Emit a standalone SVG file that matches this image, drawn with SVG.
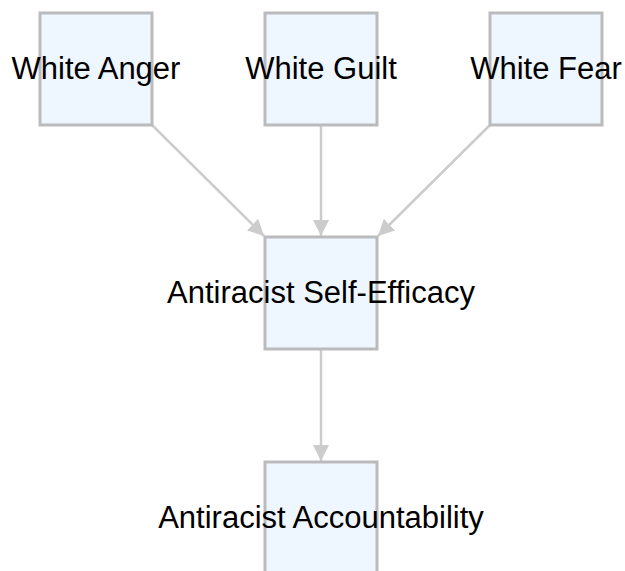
<svg xmlns="http://www.w3.org/2000/svg" width="625" height="571" viewBox="0 0 625 571">
<style>
.node rect{fill:#eef6ff;stroke:#bbbbbb;stroke-width:3}
.node text{font-family:"Liberation Sans",Arial,sans-serif;font-size:31px;fill:#000;text-anchor:middle}
.edge{stroke:#cccccc;stroke-width:2.5;fill:none;marker-end:url(#arr)}
</style>
<defs>
<marker id="arr" viewBox="0 0 10 10" refX="10" refY="5" markerWidth="6.5" markerHeight="6.5" markerUnits="strokeWidth" orient="auto">
<path d="M0,0 L10,5 L0,10 z" fill="#cccccc"/>
</marker>
</defs>
<rect width="625" height="571" fill="#ffffff"/>
<g id="edges">
<line class="edge" x1="152" y1="125" x2="264" y2="236"/>
<line class="edge" x1="321" y1="125" x2="321" y2="236"/>
<line class="edge" x1="490" y1="125" x2="378" y2="236"/>
<line class="edge" x1="321" y1="349" x2="321" y2="461"/>
</g>
<g id="white-anger" class="node"><rect x="40" y="13" width="112" height="112"/><text x="96" y="79">White Anger</text></g>
<g id="white-guilt" class="node"><rect x="265" y="13" width="112" height="112"/><text x="321" y="79">White Guilt</text></g>
<g id="white-fear" class="node"><rect x="490" y="13" width="112" height="112"/><text x="546" y="79">White Fear</text></g>
<g id="self-efficacy" class="node"><rect x="265" y="237" width="112" height="112"/><text x="321" y="303">Antiracist Self-Efficacy</text></g>
<g id="accountability" class="node"><rect x="265" y="462" width="112" height="112"/><text x="321" y="528">Antiracist Accountability</text></g>
</svg>
